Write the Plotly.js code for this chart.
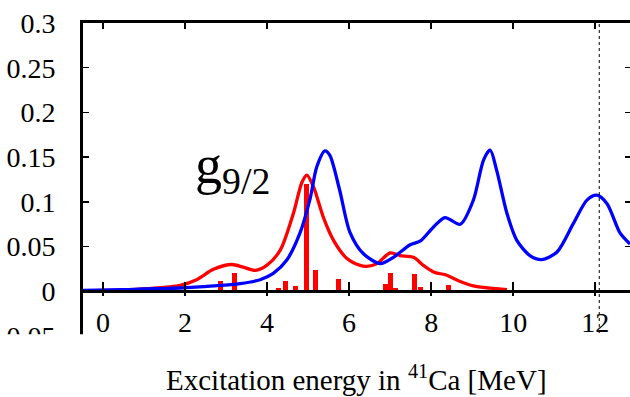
<!DOCTYPE html>
<html>
<head>
<meta charset="utf-8">
<script src="https://cdn.plot.ly/plotly-3.0.1.min.js"></script>
<style>html,body{margin:0;padding:0;background:#fff;}#chart{width:630px;height:397px;}</style>
</head>
<body>
<div id="chart"></div>
<script>
// Strength distributions (excitation energy in MeV)
const redCurveX = [-0.49, 0.5, 1.07, 1.88, 2.28, 2.69, 3.14, 3.42, 3.71, 3.99, 4.32, 4.64, 4.85, 4.97, 5.13, 5.37, 5.62, 5.94, 6.27, 6.43, 6.68, 7.0, 7.24, 7.57, 7.81, 8.06, 8.38, 8.71, 9.03, 9.44, 9.85];
const redCurveY = [0.0005, 0.0015, 0.003, 0.0067, 0.013, 0.0246, 0.030, 0.027, 0.0235, 0.029, 0.046, 0.087, 0.122, 0.130, 0.117, 0.083, 0.057, 0.037, 0.029, 0.028, 0.031, 0.043, 0.040, 0.038, 0.029, 0.0217, 0.018, 0.011, 0.006, 0.0035, 0.002];

const blueCurveX = [-0.49, 0.5, 1.88, 2.69, 3.34, 3.83, 4.15, 4.48, 4.80, 5.05, 5.21, 5.41, 5.53, 5.77, 6.02, 6.35, 6.76, 7.08, 7.49, 7.73, 8.06, 8.34, 8.71, 9.03, 9.28, 9.44, 9.60, 9.85, 10.09, 10.41, 10.70, 11.07, 11.47, 11.80, 12.04, 12.29, 12.61, 12.85];
const blueCurveY = [0.001, 0.002, 0.0037, 0.006, 0.0086, 0.013, 0.020, 0.035, 0.065, 0.104, 0.139, 0.157, 0.152, 0.113, 0.066, 0.042, 0.031, 0.038, 0.052, 0.056, 0.072, 0.0825, 0.075, 0.102, 0.147, 0.158, 0.135, 0.087, 0.057, 0.040, 0.0355, 0.044, 0.076, 0.102, 0.1075, 0.098, 0.065, 0.053];

const barX = [2.87, 3.21, 4.27, 4.44, 4.70, 4.95, 5.18, 5.74, 6.38, 6.88, 7.01, 7.14, 7.60, 7.73, 7.95, 8.43];
const barY = [0.011, 0.0205, 0.004, 0.0115, 0.0065, 0.120, 0.0235, 0.014, 0.002, 0.008, 0.020, 0.004, 0.019, 0.005, 0.002, 0.0075];

const xTicks = [0, 2, 4, 6, 8, 10, 12];
const yTicks = [-0.05, 0, 0.05, 0.1, 0.15, 0.2, 0.25, 0.3];
const yTickText = ["-0.05", "0", "0.05", "0.1", "0.15", "0.2", "0.25", "0.3"];
const stateLabel = "g<sub>9/2</sub>";
const xTitle = "Excitation energy in <sup>41</sup>Ca [MeV]";
const markerEnergy = 12.1;

const serif = "Liberation Serif";
const xRange = [-0.49, 12.85];
const yRange = [-0.06, 0.3];

const traces = [
  {type: 'bar', x: barX, y: barY, width: 0.12, marker: {color: '#ff0000', line: {width: 0}}, hoverinfo: 'skip'},
  {type: 'scatter', mode: 'lines', x: redCurveX, y: redCurveY, line: {color: '#ff0000', width: 3.3, shape: 'spline', smoothing: 0.8}},
  {type: 'scatter', mode: 'lines', x: blueCurveX, y: blueCurveY, line: {color: '#0000ff', width: 3.3, shape: 'spline', smoothing: 0.8}},
  {type: 'scatter', mode: 'lines', x: [xRange[0]], y: [yRange[0]], xaxis: 'x2', yaxis: 'y2', line: {width: 0}, hoverinfo: 'skip'},
  {type: 'scatter', mode: 'lines', x: [xRange[0]], y: [yRange[0]], xaxis: 'x3', yaxis: 'y', line: {width: 0}, hoverinfo: 'skip'}
];

const zeroPos = (0 - yRange[0]) / (yRange[1] - yRange[0]);

const layout = {
  width: 630, height: 397,
  margin: {l: 83, r: 0, t: 23, b: 52.4, pad: 0},
  paper_bgcolor: '#fff', plot_bgcolor: 'rgba(0,0,0,0)',
  showlegend: false,
  bargap: 0,
  font: {family: serif, size: 28, color: '#000'},
  xaxis: {
    range: xRange, anchor: 'free', position: zeroPos,
    tickvals: xTicks, ticks: 'inside', ticklen: 8, tickwidth: 1.5, tickcolor: '#000',
    showline: true, linewidth: 3, linecolor: '#000',
    showgrid: false, zeroline: false,
    tickfont: {family: serif, size: 28, color: '#000'},
    ticklabelstandoff: 5
  },
  xaxis3: {
    range: xRange, overlaying: 'x', anchor: 'free', position: zeroPos,
    tickvals: xTicks, ticks: 'outside', ticklen: 4, tickwidth: 1.5, tickcolor: '#000',
    showline: false, showgrid: false, zeroline: false, showticklabels: false
  },
  xaxis2: {
    range: xRange, overlaying: 'x', side: 'top', anchor: 'y2',
    tickvals: xTicks, ticks: 'inside', ticklen: 6, tickwidth: 1.5, tickcolor: '#000',
    showline: true, linewidth: 3, linecolor: '#000',
    showgrid: false, zeroline: false, showticklabels: false
  },
  yaxis: {
    range: yRange, tickvals: yTicks, ticktext: yTickText,
    ticks: 'inside', ticklen: 6, tickwidth: 1.5, tickcolor: '#000',
    showline: true, linewidth: 3, linecolor: '#000',
    showgrid: false, zeroline: false,
    tickfont: {family: serif, size: 28, color: '#000'},
    ticklabelstandoff: 19
  },
  yaxis2: {
    range: yRange, overlaying: 'y', side: 'right', anchor: 'x2',
    tickvals: yTicks, ticks: 'inside', ticklen: 5, tickwidth: 1.5, tickcolor: '#000',
    showline: false, showgrid: false, zeroline: false, showticklabels: false
  },
  shapes: [
    {type: 'line', xref: 'x', yref: 'paper', x0: markerEnergy, x1: markerEnergy, y0: 0, y1: 1,
     line: {color: '#000', width: 1, dash: 'dot'}, layer: 'above'},
    {type: 'rect', xref: 'paper', yref: 'paper', x0: -0.2, x1: 1.05, y0: -0.3, y1: 0.033,
     fillcolor: '#fff', line: {width: 0}, layer: 'above'}
  ],
  annotations: [
    {text: stateLabel, xref: 'x', yref: 'y', x: 2.2, y: 0.137, xanchor: 'left', yanchor: 'middle',
     showarrow: false, font: {family: serif, size: 54, color: '#000'}},
    {text: xTitle, xref: 'paper', yref: 'paper', x: 0.5, y: -0.104, xanchor: 'center', yanchor: 'middle',
     showarrow: false, font: {family: serif, size: 29, color: '#000'}}
  ]
};

function forceSerif() {
  document.querySelectorAll('#chart text').forEach(t => {
    t.style.setProperty('font-family', "'Liberation Serif', 'Times New Roman', serif", 'important');
  });
  document.querySelectorAll('#chart tspan').forEach(t => {
    t.style.setProperty('font-family', "'Liberation Serif', 'Times New Roman', serif", 'important');
  });
}

const gd = document.getElementById('chart');
Plotly.newPlot(gd, traces, layout, {staticPlot: true, displayModeBar: false}).then(() => {
  forceSerif();
  gd.on('plotly_afterplot', forceSerif);
});
</script>
</body>
</html>
